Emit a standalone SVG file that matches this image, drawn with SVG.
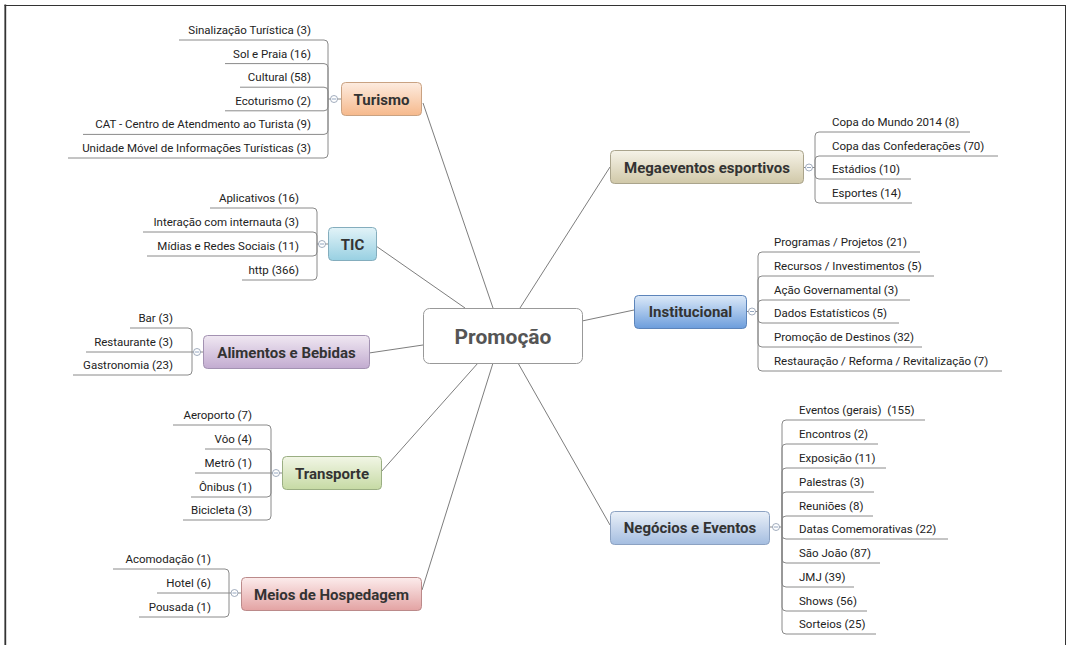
<svg xmlns="http://www.w3.org/2000/svg" width="1067" height="645" viewBox="0 0 1067 645">
<style>
.frame{stroke:#333;fill:none}
.conn{stroke:#6e6e6e;stroke-width:0.9;fill:none}
.br{stroke:#8a8a8a;stroke-width:1;fill:none}
.ct{font-family:Roboto,"Liberation Sans",sans-serif;font-size:11.5px;fill:#222}
.l{text-anchor:end}
.mt{font-family:Roboto,"Liberation Sans",sans-serif;font-size:15px;font-weight:bold;fill:#333;text-anchor:middle}
.cen{font-family:Roboto,"Liberation Sans",sans-serif;font-size:21px;font-weight:bold;fill:#555;text-anchor:middle}
.cc{fill:#fff;stroke:#8a98ac;stroke-width:0.8}
.cm{stroke:#7890b0;stroke-width:0.8}
</style>
<defs>
<linearGradient id="gTur" x1="0" y1="0" x2="0" y2="1"><stop offset="0" stop-color="#fdece0"/><stop offset="1" stop-color="#f6b98c"/></linearGradient>
<linearGradient id="gTic" x1="0" y1="0" x2="0" y2="1"><stop offset="0" stop-color="#e2f3f8"/><stop offset="1" stop-color="#98d0e2"/></linearGradient>
<linearGradient id="gAli" x1="0" y1="0" x2="0" y2="1"><stop offset="0" stop-color="#f0e8f2"/><stop offset="1" stop-color="#c2abd0"/></linearGradient>
<linearGradient id="gTra" x1="0" y1="0" x2="0" y2="1"><stop offset="0" stop-color="#f2f6e6"/><stop offset="1" stop-color="#c6daa4"/></linearGradient>
<linearGradient id="gMei" x1="0" y1="0" x2="0" y2="1"><stop offset="0" stop-color="#fcecec"/><stop offset="1" stop-color="#e3a3a3"/></linearGradient>
<linearGradient id="gMeg" x1="0" y1="0" x2="0" y2="1"><stop offset="0" stop-color="#f6f3e8"/><stop offset="1" stop-color="#d0c8a8"/></linearGradient>
<linearGradient id="gIns" x1="0" y1="0" x2="0" y2="1"><stop offset="0" stop-color="#dce9f8"/><stop offset="1" stop-color="#6c9ddc"/></linearGradient>
<linearGradient id="gNeg" x1="0" y1="0" x2="0" y2="1"><stop offset="0" stop-color="#eaf0f8"/><stop offset="1" stop-color="#a4bde0"/></linearGradient>
</defs>
<rect width="1067" height="645" fill="#fff"/>
<path class="frame" d="M5.3 4.5V645" stroke-width="1.8"/>
<path class="frame" d="M4.5 5.5H1066" stroke-width="1.2"/>
<path class="frame" d="M1065.5 5V645" stroke-width="1"/>

<g id="connectors">
<path class="conn" d="M423 103L493 308"/>
<path class="conn" d="M376 246L465 308"/>
<path class="conn" d="M369 353L423 345"/>
<path class="conn" d="M381 472L478 363"/>
<path class="conn" d="M422 590L493 363"/>
<path class="conn" d="M610 167L520 308"/>
<path class="conn" d="M634 310L582 321"/>
<path class="conn" d="M610 525L518 363"/>
</g>

<g id="promocao">
<rect x="423.5" y="308.5" width="159" height="55" rx="6" fill="#fff" stroke="#999" stroke-width="1"/>
<text class="cen" x="503" y="344">Promoção</text>
</g>

<g id="turismo">
<path class="br" d="M328 99V44Q328 40 324 40H179M328 99V67.6Q328 63.6 324 63.6H225M328 99V91.2Q328 87.2 324 87.2H240M328 99V106.8Q328 110.8 324 110.8H225M328 99V130.4Q328 134.4 324 134.4H83M328 99V154Q328 158 324 158H68M328 99H341"/>
<circle class="cc" cx="334" cy="99" r="3.5"/><path class="cm" d="M332 99H336"/>
<rect x="341.5" y="82.5" width="80" height="33" rx="4" fill="url(#gTur)" stroke="#c9a282"/>
<text class="mt" x="381.5" y="104.5">Turismo</text>
<text class="ct l" x="311" y="34">Sinalização Turística (3)</text>
<text class="ct l" x="311" y="57.6">Sol e Praia (16)</text>
<text class="ct l" x="311" y="81.2">Cultural (58)</text>
<text class="ct l" x="311" y="104.8">Ecoturismo (2)</text>
<text class="ct l" x="311" y="128.4">CAT - Centro de Atendmento ao Turista (9)</text>
<text class="ct l" x="311" y="152">Unidade Móvel de Informações Turísticas (3)</text>
</g>

<g id="tic">
<path class="br" d="M317 244V212Q317 208 313 208H210M317 244V236Q317 232 313 232H143M317 244V252Q317 256 313 256H147M317 244V276Q317 280 313 280H242M317 244H328"/>
<circle class="cc" cx="322" cy="244" r="3.5"/><path class="cm" d="M320 244H324"/>
<rect x="328.5" y="227.5" width="48" height="33" rx="4" fill="url(#gTic)" stroke="#84adbd"/>
<text class="mt" x="352.5" y="249.5">TIC</text>
<text class="ct l" x="299" y="202">Aplicativos (16)</text>
<text class="ct l" x="299" y="226">Interação com internauta (3)</text>
<text class="ct l" x="299" y="250">Mídias e Redes Sociais (11)</text>
<text class="ct l" x="299" y="274">http (366)</text>
</g>

<g id="alimentos">
<path class="br" d="M192 352V332Q192 328 188 328H130M192 352H86M192 352V371Q192 375 188 375H73M192 352H203"/>
<circle class="cc" cx="197" cy="352" r="3.5"/><path class="cm" d="M195 352H199"/>
<rect x="203.5" y="335.5" width="166" height="33" rx="4" fill="url(#gAli)" stroke="#a392b2"/>
<text class="mt" x="286.5" y="357.5">Alimentos e Bebidas</text>
<text class="ct l" x="173" y="322">Bar (3)</text>
<text class="ct l" x="173" y="346">Restaurante (3)</text>
<text class="ct l" x="173" y="369">Gastronomia (23)</text>
</g>

<g id="transporte">
<path class="br" d="M271 473V429Q271 425 267 425H173M271 473V453Q271 449 267 449H205M271 473H195M271 473V493Q271 497 267 497H191M271 473V516Q271 520 267 520H183M271 473H282"/>
<circle class="cc" cx="276" cy="473" r="3.5"/><path class="cm" d="M274 473H278"/>
<rect x="282.5" y="456.5" width="99" height="33" rx="4" fill="url(#gTra)" stroke="#9aae82"/>
<text class="mt" x="332" y="478.5">Transporte</text>
<text class="ct l" x="252" y="419">Aeroporto (7)</text>
<text class="ct l" x="252" y="443">Vôo (4)</text>
<text class="ct l" x="252" y="467">Metrô (1)</text>
<text class="ct l" x="252" y="491">Ônibus (1)</text>
<text class="ct l" x="252" y="514">Bicicleta (3)</text>
</g>

<g id="meios">
<path class="br" d="M229 593V573Q229 569 225 569H113M229 593H157M229 593V613Q229 617 225 617H139M229 593H241"/>
<circle class="cc" cx="234.5" cy="593" r="3.5"/><path class="cm" d="M232.5 593H236.5"/>
<rect x="241.5" y="577.5" width="180" height="33" rx="4" fill="url(#gMei)" stroke="#bb8a8a"/>
<text class="mt" x="331.5" y="599.5">Meios de Hospedagem</text>
<text class="ct l" x="211" y="563">Acomodação (1)</text>
<text class="ct l" x="211" y="587">Hotel (6)</text>
<text class="ct l" x="211" y="611">Pousada (1)</text>
</g>

<g id="megaeventos">
<path class="br" d="M815 167.5V136Q815 132 819 132H970M815 167.5V160Q815 156 819 156H998M815 167.5V175Q815 179 819 179H911M815 167.5V199Q815 203 819 203H912M815 167.5H803"/>
<circle class="cc" cx="809" cy="167.5" r="3.5"/><path class="cm" d="M807 167.5H811"/>
<rect x="610.5" y="150.5" width="193" height="33" rx="4" fill="url(#gMeg)" stroke="#aaa48c"/>
<text class="mt" x="707" y="172.5">Megaeventos esportivos</text>
<text class="ct" x="832" y="126">Copa do Mundo 2014 (8)</text>
<text class="ct" x="832" y="150">Copa das Confederações (70)</text>
<text class="ct" x="832" y="173">Estádios (10)</text>
<text class="ct" x="832" y="197">Esportes (14)</text>
</g>

<g id="institucional">
<path class="br" d="M758 311.5V256Q758 252 762 252H920M758 311.5V280Q758 276 762 276H934M758 311.5V304Q758 300 762 300H910M758 311.5V319Q758 323 762 323H899M758 311.5V343Q758 347 762 347H922M758 311.5V367Q758 371 762 371H1002M758 311.5H746"/>
<circle class="cc" cx="752" cy="311.5" r="3.5"/><path class="cm" d="M750 311.5H754"/>
<rect x="634.5" y="295.5" width="112" height="33" rx="4" fill="url(#gIns)" stroke="#5c84ba"/>
<text class="mt" x="690.5" y="317">Institucional</text>
<text class="ct" x="774" y="246">Programas / Projetos (21)</text>
<text class="ct" x="774" y="270">Recursos / Investimentos (5)</text>
<text class="ct" x="774" y="294">Ação Governamental (3)</text>
<text class="ct" x="774" y="317">Dados Estatísticos (5)</text>
<text class="ct" x="774" y="341">Promoção de Destinos (32)</text>
<text class="ct" x="774" y="365">Restauração / Reforma / Revitalização (7)</text>
</g>

<g id="negocios">
<path class="br" d="M782 527V424Q782 420 786 420H925M782 527V448Q782 444 786 444H878M782 527V472Q782 468 786 468H886M782 527V496Q782 492 786 492H874M782 527V520Q782 516 786 516H873M782 527V535Q782 539 786 539H948M782 527V559Q782 563 786 563H880M782 527V583Q782 587 786 587H854M782 527V607Q782 611 786 611H867M782 527V630Q782 634 786 634H876M782 527H769"/>
<circle class="cc" cx="776" cy="527" r="3.5"/><path class="cm" d="M774 527H778"/>
<rect x="610.5" y="511.5" width="159" height="33" rx="4" fill="url(#gNeg)" stroke="#8ca2c2"/>
<text class="mt" x="690" y="533">Negócios e Eventos</text>
<text class="ct" x="799" y="414" xml:space="preserve">Eventos (gerais)  (155)</text>
<text class="ct" x="799" y="438">Encontros (2)</text>
<text class="ct" x="799" y="462">Exposição (11)</text>
<text class="ct" x="799" y="486">Palestras (3)</text>
<text class="ct" x="799" y="510">Reuniões (8)</text>
<text class="ct" x="799" y="533">Datas Comemorativas (22)</text>
<text class="ct" x="799" y="557">São João (87)</text>
<text class="ct" x="799" y="581">JMJ (39)</text>
<text class="ct" x="799" y="605">Shows (56)</text>
<text class="ct" x="799" y="628">Sorteios (25)</text>
</g>
</svg>
